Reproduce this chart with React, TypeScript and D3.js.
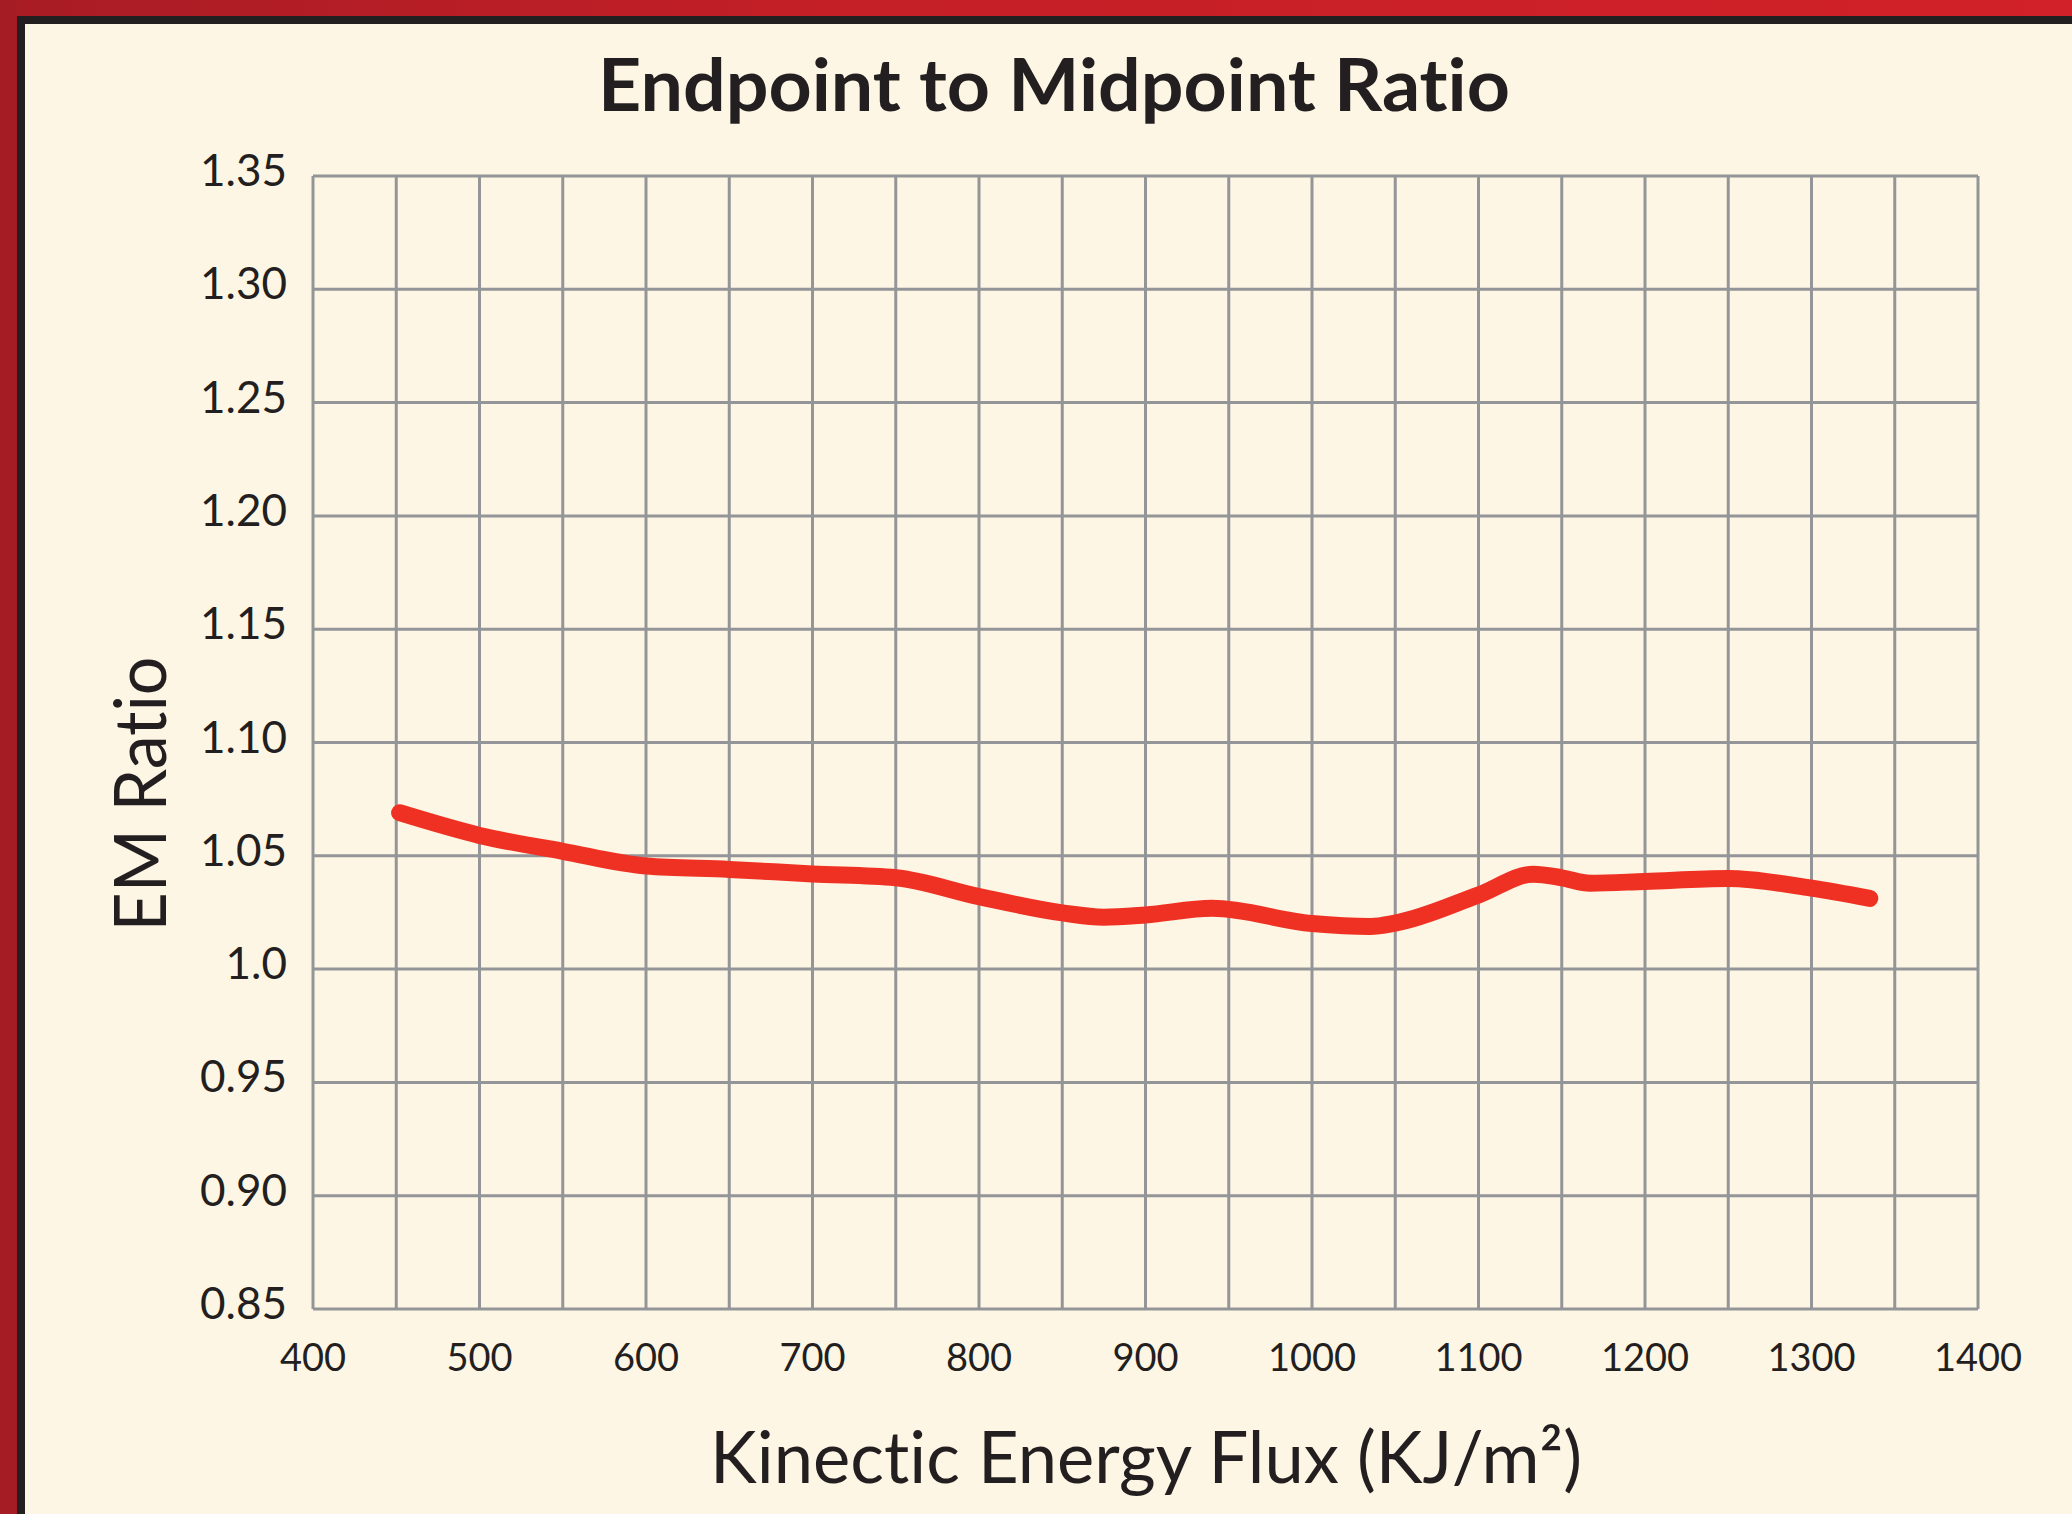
import React, { useEffect } from 'react';
import * as d3 from 'd3';

// kinetic energy flux (KJ/m2) vs EM ratio
const fluxValues = [452, 500, 550, 600, 650, 700, 750, 800, 850, 875, 900, 940, 1000, 1035, 1050, 1100, 1133, 1150, 1167, 1200, 1250, 1300, 1335];
const ratioValues = [1.069, 1.059, 1.052, 1.0455, 1.044, 1.042, 1.0403, 1.032, 1.0248, 1.0229, 1.0239, 1.0268, 1.0201, 1.0188, 1.0203, 1.0327, 1.0419, 1.0403, 1.0379, 1.0387, 1.04, 1.0357, 1.0312];

const xTickLabels = ['400', '500', '600', '700', '800', '900', '1000', '1100', '1200', '1300', '1400'];
const yTickLabels = ['1.35', '1.30', '1.25', '1.20', '1.15', '1.10', '1.05', '1.0', '0.95', '0.90', '0.85'];

const W = 2072;
const H = 1514;
const cream = '#fef6e4';
const grid = '#939598';
const ink = '#231f20';
const font = 'Lato, "Open Sans", sans-serif';
const noLiga = { fontVariantLigatures: 'none' as const };

const App = () => {
  useEffect(() => {
    document.body.style.margin = '0';
  }, []);

  const x = d3.scaleLinear().domain([400, 1400]).range([313, 1978]);
  const y = d3.scaleLinear().domain([0.85, 1.35]).range([1309, 176]);

  const points = fluxValues.map((f, i) => [f, ratioValues[i]] as [number, number]);
  const line = d3
    .line<[number, number]>()
    .x(d => x(d[0]))
    .y(d => y(d[1]))
    .curve(d3.curveMonotoneX);

  const xGrid = x.ticks(20);
  const yGrid = y.ticks(10);

  return (
    <svg width={W} height={H} style={{ display: 'block' }}>
      <defs>
        <linearGradient id="topRed" x1="0" x2="1" y1="0" y2="0">
          <stop offset="0" stopColor="#a81c24" />
          <stop offset="0.4" stopColor="#c41f27" />
          <stop offset="1" stopColor="#d22128" />
        </linearGradient>
      </defs>
      <rect x={0} y={0} width={W} height={H} fill={cream} />
      {/* frame */}
      <rect x={0} y={0} width={W} height={16} fill="url(#topRed)" />
      <rect x={0} y={0} width={17} height={H} fill="#a61c24" />
      <rect x={17} y={16} width={W - 17} height={8} fill={ink} />
      <rect x={17} y={16} width={8} height={H - 16} fill={ink} />

      <text x={1054} y={111} textAnchor="middle" fontFamily={font} fontWeight={700} fontSize={72} fill={ink} textLength={912} lengthAdjust="spacingAndGlyphs" style={noLiga}>
        Endpoint to Midpoint Ratio
      </text>

      {/* grid */}
      <g stroke={grid} strokeWidth={3}>
        {xGrid.map(t => (
          <line key={'x' + t} x1={x(t)} x2={x(t)} y1={y(1.35)} y2={y(0.85)} />
        ))}
        {yGrid.map(t => (
          <line key={'y' + t} x1={x(400)} x2={x(1400)} y1={y(t)} y2={y(t)} />
        ))}
      </g>

      {/* y ticks */}
      <g fontFamily={font} fontSize={44} fill={ink} textAnchor="end">
        {yTickLabels.map(l => (
          <text key={l} x={287} y={y(+l) + 10}>
            {l}
          </text>
        ))}
      </g>

      {/* x ticks */}
      <g fontFamily={font} fontSize={38} fill={ink} textAnchor="middle">
        {xTickLabels.map(l => (
          <text key={l} x={x(+l)} y={1371}>
            {l}
          </text>
        ))}
      </g>

      <path d={line(points) || ''} fill="none" stroke="#ef3124" strokeWidth={17} strokeLinecap="round" strokeLinejoin="round" />

      <text x={1146} y={1483} textAnchor="middle" fontFamily={font} fontSize={72} fill={ink} textLength={872} lengthAdjust="spacingAndGlyphs" style={noLiga}>
        Kinectic Energy Flux (KJ/m²)
      </text>

      <text transform="translate(166,794) rotate(-90)" textAnchor="middle" fontFamily={font} fontSize={72} fill={ink} textLength={275} lengthAdjust="spacingAndGlyphs" style={noLiga}>
        EM Ratio
      </text>
    </svg>
  );
};

export default App;
